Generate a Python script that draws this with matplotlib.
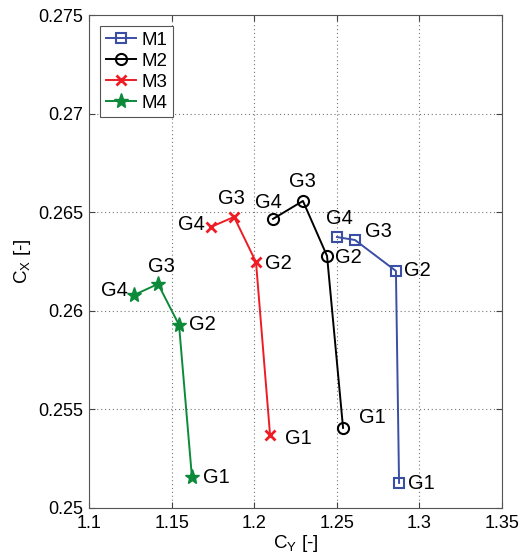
import numpy as np
import matplotlib
matplotlib.use('Agg')
import matplotlib.pyplot as plt

plt.rcParams['font.family'] = ['Liberation Sans', 'DejaVu Sans']
plt.rcParams['mathtext.fontset'] = 'custom'
plt.rcParams['mathtext.rm'] = 'Liberation Sans'
plt.rcParams['mathtext.it'] = 'Liberation Sans'

# data (points ordered G1..G4)
point_names = ['G1', 'G2', 'G3', 'G4']
series_names = ['M1', 'M2', 'M3', 'M4']

m1_cy = [1.2877, 1.2858, 1.2610, 1.2501]
m1_cx = [0.25127, 0.26202, 0.26359, 0.26374]
m2_cy = [1.2538, 1.2441, 1.2295, 1.2114]
m2_cx = [0.25406, 0.26278, 0.26557, 0.26466]
m3_cy = [1.2096, 1.2011, 1.1878, 1.1738]
m3_cx = [0.25370, 0.26247, 0.26476, 0.26425]
m4_cy = [1.1623, 1.1545, 1.1418, 1.1272]
m4_cx = [0.25157, 0.25928, 0.26136, 0.26080]

x_ticks = [1.1, 1.15, 1.2, 1.25, 1.3, 1.35]
y_ticks = [0.25, 0.255, 0.26, 0.265, 0.27, 0.275]

# styles
styles = [
    dict(color='#3a4ea3', marker='s', ms=7, mfc='none', mew=1.5),
    dict(color='black', marker='o', ms=8, mfc='none', mew=1.5),
    dict(color='#ee1c24', marker='x', ms=7, mew=2),
    dict(color='#0c8a3a', marker='*', ms=11, mew=1),
]
# label offsets in pixels (dx, dy, ha) for G1..G4
label_offsets = [
    [(9, -1, 'left'), (8, 0, 'left'), (10, 8, 'left'), (2, 19, 'center')],
    [(16, 10, 'left'), (8, -2, 'left'), (0, 19, 'center'), (-5, 16, 'center')],
    [(15, -3, 'left'), (9, -1, 'left'), (-3, 18, 'center'), (-6, 2, 'right')],
    [(11, 0, 'left'), (10, 0, 'left'), (3, 17, 'center'), (-6, 5, 'right')],
]

all_cy = [m1_cy, m2_cy, m3_cy, m4_cy]
all_cx = [m1_cx, m2_cx, m3_cx, m4_cx]

fig = plt.figure(figsize=(5.19, 5.6), dpi=100)
ax = fig.add_axes([0.1715, 0.0929, 0.7957, 0.8803])

for name, cy, cx, st, offs in zip(series_names, all_cy, all_cx, styles, label_offsets):
    ax.plot(cy, cx, lw=1.4, label=name, **st)
    for pn, x, y, (dx, dy, ha) in zip(point_names, cy, cx, offs):
        ax.annotate(pn, (x, y), xytext=(dx, dy), textcoords='offset pixels',
                    ha=ha, va='center', fontsize=14.5)

ax.set_xlim(1.1, 1.35)
ax.set_ylim(0.25, 0.275)
ax.set_xticks(x_ticks)
ax.set_yticks(y_ticks)
ax.set_xticklabels([f'{v:g}' for v in x_ticks])
ax.set_yticklabels([f'{v:g}' for v in y_ticks])
ax.tick_params(direction='in', top=True, right=True, labelsize=13, length=4,
               color='#444444')
ax.tick_params(axis='y', pad=4)
ax.tick_params(axis='x', pad=5)
ax.grid(True, linestyle=(0, (1, 2.5)), color='#777777', lw=0.8)
for sp in ax.spines.values():
    sp.set_color('#555555')

ax.set_xlabel(r'C$_\mathregular{Y}$ [-]', fontsize=13.5, labelpad=1)
ax.set_ylabel(r'C$_\mathregular{X}$ [-]', fontsize=13.5, labelpad=4)

leg = ax.legend(loc='upper left', fontsize=13.5, fancybox=False, framealpha=1,
                edgecolor='#555555', handlelength=1.6, borderpad=0.3,
                labelspacing=0.2, handletextpad=0.3, borderaxespad=0.6)
leg.get_frame().set_linewidth(0.8)

fig.savefig('out.png', dpi=100)
